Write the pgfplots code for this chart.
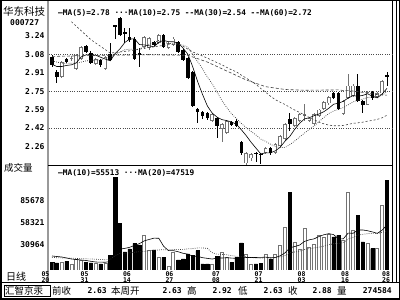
\documentclass[border=0pt]{standalone}
\usepackage{fontspec}
\usepackage{pgfplots}
\usepackage{pgfplotstable}
\pgfplotsset{compat=1.18}
\setmainfont{DejaVu Sans}
\setmonofont{DejaVu Sans Mono}
\newfontfamily\cjk{Noto Sans CJK SC}
\newcommand\tk{\fontsize{8}{8}\selectfont\ttfamily\bfseries}
\newcommand\lgd{\fontsize{7.8}{7.8}\selectfont\ttfamily\bfseries}

\pgfplotstableread{
i o h l c v
0 3.056 3.07 2.97 2.98 9600
1 2.925 2.935 2.825 2.875 8610
3 3.04 3.05 3.00 3.01 10455
7 3.155 3.165 3.09 3.10 9600
8 3.095 3.105 2.99 3.005 8610
10 3.025 3.035 2.965 2.98 7380
12 3.085 3.18 3.015 3.025 17590
13 3.34 3.345 3.22 3.33 114140
14 3.40 3.41 3.24 3.25 57200
15 3.275 3.315 3.18 3.265 22140
16 3.235 3.31 3.19 3.205 25830
17 3.22 3.23 3.03 3.04 32600
18 3.087 3.135 2.965 3.07 30750
21 3.19 3.20 3.15 3.16 24600
23 3.25 3.26 3.135 3.145 15620
26 3.19 3.20 3.09 3.10 12300
27 3.115 3.125 3.015 3.025 13530
28 3.045 3.055 2.855 2.865 19680
29 2.92 2.93 2.61 2.62 17590
30 2.595 2.60 2.465 2.565 23740
31 2.565 2.575 2.50 2.53 7380
32 2.555 2.565 2.49 2.51 7380
34 2.51 2.52 2.33 2.44 16600
37 2.475 2.485 2.44 2.45 9470
38 2.48 2.50 2.43 2.44 15620
39 2.295 2.305 2.18 2.195 33210
42 2.20 2.21 2.12 2.19 7380
43 2.19 2.20 2.10 2.18 8240
45 2.24 2.25 2.18 2.195 13530
49 2.50 2.555 2.395 2.455 95690
58 2.73 2.74 2.68 2.69 40590
59 2.73 2.74 2.58 2.595 42440
63 2.80 2.90 2.655 2.665 67040
64 2.665 2.675 2.557 2.63 34440
66 2.74 2.75 2.67 2.685 26200
69 2.89 2.92 2.80 2.88 110000
}\down

\pgfplotstableread{
i o h l c v
2 2.875 3.02 2.865 3.01 9600
4 3.035 3.06 3.02 3.05 7380
5 2.95 3.08 2.94 3.07 13530
6 3.04 3.15 3.03 3.14 12300
9 2.995 3.05 2.98 3.04 8610
11 2.95 3.06 2.94 3.055 8240
19 3.145 3.24 3.13 3.235 42440
20 3.135 3.235 3.12 3.225 24600
22 3.18 3.26 3.17 3.25 15620
24 3.135 3.19 3.125 3.18 4060
25 3.16 3.23 3.15 3.22 21770
33 2.485 2.555 2.475 2.545 7380
35 2.415 2.465 2.30 2.455 21770
36 2.38 2.495 2.37 2.485 15620
40 2.105 2.205 2.095 2.195 19680
41 2.15 2.20 2.13 2.19 7380
44 2.195 2.25 2.185 2.24 19680
46 2.195 2.29 2.185 2.28 19680
47 2.26 2.36 2.25 2.35 30140
48 2.32 2.465 2.31 2.455 52280
50 2.44 2.52 2.43 2.51 34440
51 2.485 2.555 2.475 2.545 25830
52 2.53 2.635 2.485 2.545 51660
53 2.485 2.52 2.475 2.51 28290
54 2.46 2.555 2.45 2.545 31980
55 2.53 2.595 2.52 2.585 42440
56 2.595 2.66 2.585 2.65 40590
57 2.64 2.705 2.63 2.695 43910
60 2.55 2.675 2.54 2.665 36290
61 2.69 2.90 2.68 2.80 95690
62 2.71 2.81 2.70 2.80 49200
65 2.63 2.75 2.63 2.74 32600
67 2.70 2.74 2.69 2.73 26200
68 2.73 2.85 2.72 2.84 79500
}\up

\pgfplotstableread{
i v
0 2.99
1 2.97
2 2.97
3 2.98
4 2.985
5 3.003
6 3.056
7 3.074
8 3.073
9 3.071
10 3.053
11 3.036
12 3.021
13 3.086
14 3.128
15 3.185
16 3.215
17 3.218
18 3.166
19 3.163
20 3.155
21 3.146
22 3.188
23 3.203
24 3.192
25 3.191
26 3.179
27 3.134
28 3.078
29 2.966
30 2.835
31 2.721
32 2.618
33 2.554
34 2.518
35 2.496
36 2.487
37 2.475
38 2.454
39 2.405
40 2.353
41 2.294
42 2.242
43 2.19
44 2.199
45 2.199
46 2.217
47 2.249
48 2.304
49 2.347
50 2.41
51 2.463
52 2.502
53 2.513
54 2.531
55 2.546
56 2.567
57 2.597
58 2.633
59 2.643
60 2.659
61 2.689
62 2.71
63 2.705
64 2.712
65 2.727
66 2.704
67 2.69
68 2.725
69 2.775
}\mafive

\pgfplotstableread{
i v
0 3.02
1 3.01
2 3.00
3 3.00
4 3.00
5 3.00
6 3.01
7 3.02
8 3.025
9 3.028
10 3.028
11 3.046
12 3.048
13 3.080
14 3.100
15 3.119
16 3.126
17 3.120
18 3.126
19 3.146
20 3.170
21 3.181
22 3.203
23 3.185
24 3.178
25 3.173
26 3.163
27 3.161
28 3.141
29 3.079
30 3.013
31 2.95
32 2.876
33 2.816
34 2.742
35 2.666
36 2.604
37 2.547
38 2.504
39 2.462
40 2.425
41 2.391
42 2.359
43 2.322
44 2.302
45 2.276
46 2.256
47 2.246
48 2.247
49 2.273
50 2.305
51 2.34
52 2.376
53 2.409
54 2.439
55 2.478
56 2.515
57 2.55
58 2.573
59 2.587
60 2.603
61 2.628
62 2.654
63 2.669
64 2.678
65 2.693
66 2.697
67 2.70
68 2.715
69 2.744
}\maten

\pgfplotstableread{
i v
4 3.37
8 3.21
12 3.09
16 3.11
20 3.14
24 3.165
26 3.175
29 3.10
32 3.045
35 2.985
36 2.962
37 2.940
38 2.922
39 2.893
40 2.867
41 2.838
42 2.811
43 2.774
44 2.741
45 2.705
46 2.674
47 2.651
48 2.631
49 2.605
50 2.581
51 2.560
52 2.537
53 2.516
54 2.494
55 2.473
56 2.458
57 2.447
58 2.441
59 2.441
60 2.444
61 2.453
62 2.463
63 2.467
64 2.473
65 2.482
66 2.489
67 2.498
68 2.512
69 2.535
}\mathirty

\pgfplotstableread{
i v
0 3.06
10 3.07
20 3.075
28 3.07
32 3.01
36 2.93
40 2.85
44 2.79
48 2.765
52 2.758
56 2.76
59 2.761
60 2.756
61 2.755
62 2.751
63 2.746
64 2.739
65 2.733
66 2.726
67 2.719
68 2.717
69 2.714
}\masixty

\pgfplotstableread{
i v
0 17220
1 16600
2 15990
3 14760
4 13530
5 12920
6 12300
7 11690
8 10700
9 9830
10 9610
11 9570
12 10370
13 20740
14 25720
15 26580
16 27930
17 30230
18 32450
19 35830
20 37550
21 39190
22 38990
23 29140
24 23830
25 23790
26 22440
27 20530
28 19420
29 16940
30 16850
31 15130
32 14300
33 13480
34 14740
35 14740
36 15070
37 14660
38 14260
39 15820
40 15410
41 15410
42 15410
43 15500
44 15810
45 14980
46 15390
47 17450
48 21120
49 27370
50 28840
51 30690
52 35120
53 37120
54 38350
55 41240
56 43330
57 44710
58 43540
59 38220
60 38400
61 45390
62 45140
63 49020
64 49260
65 48280
66 46840
67 45070
68 48960
69 55513
}\vmaten

\pgfplotstableread{
i v
0 15380
1 15130
2 14880
3 14760
4 14510
5 14270
6 14020
7 13780
8 13530
9 13280
10 12920
11 12670
12 12920
13 17840
14 20300
15 20660
16 21160
17 21890
18 22390
19 22830
20 23580
21 24380
22 24690
23 24940
24 24770
25 25190
26 25190
27 25390
28 25940
29 26380
30 27210
31 27160
32 26650
33 21320
34 19290
35 19260
36 18760
37 17600
38 16840
39 16380
40 16140
41 15280
42 14860
43 14490
44 15280
45 14860
46 15230
47 16060
48 17690
49 21600
50 22130
51 23050
52 25260
53 26310
54 27080
55 28120
56 29360
57 31080
58 32340
59 32790
60 33630
61 38040
62 40130
63 43070
64 43810
65 44760
66 45090
67 44900
68 46380
69 47519
}\vmatwenty

\definecolor{hol}{gray}{0.45}
\definecolor{sep}{gray}{0.6}

\begin{document}
\begin{tikzpicture}[x=1pt,y=1pt]
\useasboundingbox (0,0) rectangle (400,300);
\fill[white] (0,0) rectangle (400,300);
% frame
\draw[black,line width=1.5pt] (0.75,0.75) rectangle (399.25,299.25);
\draw[sep,line width=2pt] (48,17) -- (48,299);
\draw[black,line width=0.8pt] (392.5,17) -- (392.5,299);
\draw[black,line width=0.8pt] (396,17) -- (396,299);
\draw[black,line width=0.8pt] (48,135) -- (392.5,135);
\draw[black,line width=1pt] (0,17) -- (400,17);

\begin{axis}[at={(49pt,135pt)}, anchor=south west, scale only axis,
  width=343pt, height=161pt,
  xmin=-0.62, xmax=70.03, ymin=2.0906, ymax=3.5283,
  axis line style={draw=none}, major tick length=0pt,
  xtick=\empty,
  ytick={3.243,3.079,2.915,2.750,2.586,2.422,2.258},
  yticklabels={3.24,3.08,2.91,2.75,2.59,2.42,2.26},
  yticklabel style={font=\tk, anchor=east, xshift=-1pt},
  extra y ticks={3.079,2.750,2.422}, extra y tick labels={},
  extra y tick style={grid=major, major grid style={black!70, dash pattern=on 0.7pt off 1.6pt, line width=0.6pt}},
  clip=true]
% wicks
\addplot[draw=none, mark=none, forget plot, error bars/.cd, y dir=both, y explicit, error mark=none,
  error bar style={draw=black, solid, line width=0.8pt}]
  table[x=i, y expr={(\thisrow{h}+\thisrow{l})/2}, y error expr={(\thisrow{h}-\thisrow{l})/2}]{\down};
\addplot[draw=none, mark=none, forget plot, error bars/.cd, y dir=both, y explicit, error mark=none,
  error bar style={draw=hol, solid, line width=0.8pt}]
  table[x=i, y expr={(\thisrow{h}+\thisrow{l})/2}, y error expr={(\thisrow{h}-\thisrow{l})/2}]{\up};
% bodies
\addplot[draw=none, mark=none, forget plot, error bars/.cd, y dir=both, y explicit, error mark=none,
  error bar style={draw=black, solid, line width=3.6pt}]
  table[x=i, y expr={(\thisrow{o}+\thisrow{c})/2}, y error expr={max(abs(\thisrow{o}-\thisrow{c})/2,0.004)}]{\down};
\addplot[draw=none, mark=none, forget plot, error bars/.cd, y dir=both, y explicit, error mark=none,
  error bar style={draw=hol, solid, line width=3.6pt}]
  table[x=i, y expr={(\thisrow{o}+\thisrow{c})/2}, y error expr={max(abs(\thisrow{o}-\thisrow{c})/2,0.004)}]{\up};
\addplot[draw=none, mark=none, forget plot, error bars/.cd, y dir=both, y explicit, error mark=none,
  error bar style={draw=white, solid, line width=2.0pt}]
  table[x=i, y expr={(\thisrow{o}+\thisrow{c})/2}, y error expr={max(abs(\thisrow{o}-\thisrow{c})/2-0.0075,0)}]{\up};
% moving averages
\addplot[black, line width=0.6pt, mark=none] table[x=i,y=v]{\mafive};
\addplot[black!80, line width=0.7pt, mark=none, dash pattern=on 0.7pt off 1.4pt] table[x=i,y=v]{\maten};
\addplot[black!75, line width=0.6pt, mark=none, dash pattern=on 2pt off 2pt] table[x=i,y=v]{\mathirty};
\addplot[black!75, line width=0.6pt, mark=none, dash pattern=on 3pt off 2pt] table[x=i,y=v]{\masixty};
\end{axis}

\begin{axis}[at={(49pt,30pt)}, anchor=south west, scale only axis,
  width=343pt, height=105pt,
  xmin=-0.62, xmax=70.03, ymin=0, ymax=129150,
  axis line style={draw=none}, major tick length=0pt,
  xtick=\empty, scaled y ticks=false,
  ytick={30964,58321,85678},
  yticklabels={30964,58321,85678},
  yticklabel style={font=\tk, anchor=east, xshift=-1pt},
  clip=true]
\addplot[ybar, bar width=3.4pt, bar shift=0pt, fill=black, draw=black, line width=0.4pt] table[x=i,y=v]{\down};
\addplot[ybar, bar width=3.0pt, bar shift=0pt, fill=white, draw=hol, line width=0.8pt] table[x=i,y=v]{\up};
\addplot[black, line width=0.6pt, mark=none] table[x=i,y=v]{\vmaten};
\addplot[black!80, line width=0.7pt, mark=none, dash pattern=on 0.7pt off 1.4pt] table[x=i,y=v]{\vmatwenty};
\end{axis}

% left labels
\node[anchor=west, inner sep=0pt, font=\cjk\fontsize{10.5}{10.5}\selectfont] at (3,289) {华东科技};
\node[anchor=west, inner sep=0pt, font=\tk] at (10,277) {000727};
\node[anchor=west, inner sep=0pt, font=\cjk\fontsize{9.5}{9.5}\selectfont] at (4,132) {成交量};
\node[anchor=west, inner sep=0pt, font=\cjk\fontsize{10}{10}\selectfont] at (6,23) {日线};
% legends
\node[anchor=west, inner sep=0pt, font=\lgd] at (58,287) {—MA(5)=2.78 ···MA(10)=2.75 --MA(30)=2.54 --MA(60)=2.72};
\node[anchor=west, inner sep=0pt, font=\lgd] at (58,127) {—MA(10)=55513 ···MA(20)=47519};
% dates
\foreach \xx/\mm/\dd in {45.5/05/20,84.5/05/31,127/06/14,169.5/06/27,216/07/08,258.5/07/21,301.5/08/03,345/08/16,386/08/26}{
  \node[font=\fontsize{6.5}{6.5}\selectfont\ttfamily\bfseries, inner sep=0pt, align=center] at (\xx,23) {\mm\\[-0.5pt]\dd};
}
% bottom bar
\draw[black, line width=0.8pt] (4,4) rectangle (50,15);
\node[anchor=west, inner sep=0pt, font=\cjk\fontsize{9.5}{9.5}\selectfont] at (5,9.5) {汇智京汞};
\node[anchor=west, inner sep=0pt, font=\cjk\fontsize{9.5}{9.5}\selectfont] at (52,9.5) {前收};
\node[anchor=east, inner sep=0pt, font=\tk] at (107,9.5) {2.63};
\node[anchor=west, inner sep=0pt, font=\cjk\fontsize{9.5}{9.5}\selectfont] at (111,9.5) {本周开};
\node[anchor=east, inner sep=0pt, font=\tk] at (182,9.5) {2.63};
\node[anchor=west, inner sep=0pt, font=\cjk\fontsize{9.5}{9.5}\selectfont] at (187,9.5) {高};
\node[anchor=east, inner sep=0pt, font=\tk] at (232,9.5) {2.92};
\node[anchor=west, inner sep=0pt, font=\cjk\fontsize{9.5}{9.5}\selectfont] at (238,9.5) {低};
\node[anchor=east, inner sep=0pt, font=\tk] at (283,9.5) {2.63};
\node[anchor=west, inner sep=0pt, font=\cjk\fontsize{9.5}{9.5}\selectfont] at (288,9.5) {收};
\node[anchor=east, inner sep=0pt, font=\tk] at (332,9.5) {2.88};
\node[anchor=west, inner sep=0pt, font=\cjk\fontsize{9.5}{9.5}\selectfont] at (337,9.5) {量};
\node[anchor=east, inner sep=0pt, font=\tk] at (392,9.5) {274584};
\end{tikzpicture}
\end{document}
